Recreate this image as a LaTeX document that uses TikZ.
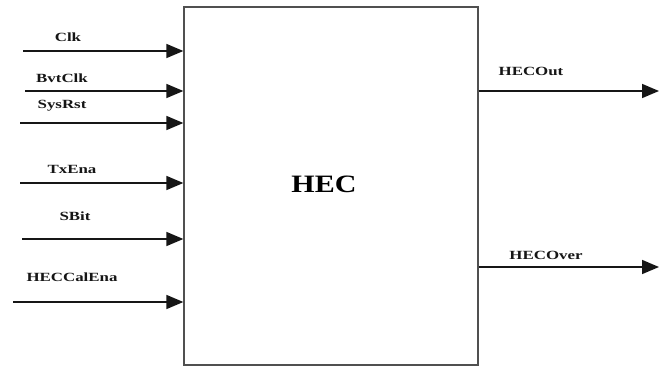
\documentclass[tikz,border=0pt]{standalone}
\usepackage{fontspec}
\setmainfont{Liberation Serif}
\newfontfamily\widefont[FakeStretch=1.35]{Liberation Serif}
\newfontfamily\titlefont[FakeStretch=1.2]{Liberation Serif}
\usetikzlibrary{arrows.meta, positioning}
\definecolor{cline}{HTML}{161616}
\definecolor{cbox}{HTML}{505050}
\tikzset{
  every picture/.style={font=\bfseries, line width=1.4pt},
  block/.style={draw=cbox, line width=1.3pt, minimum width=294pt, minimum height=358pt, inner sep=0pt},
  sig/.style={-{Triangle[length=17pt, width=14pt]}, draw=cline, line width=1.6pt},
  lbl/.style={font=\widefont\bfseries\fontsize{12.5}{14}\selectfont, text=cline, inner sep=0pt},
}

\begin{document}
\begin{tikzpicture}[x=1pt, y=-1pt]
  \useasboundingbox (0,0) rectangle (659,367);
  \node[block] (hec) at (331,186) {};
  \node[font=\titlefont\bfseries\fontsize{25}{28}\selectfont] (hectxt) at (324,184) {HEC};
  % inputs
  \foreach \i/\t/\x/\y/\lx/\ly in {1/Clk/23/51/68/37, 2/BvtClk/25/91/62/78, 3/SysRst/20/123/62/106,
                                   4/TxEna/20/183/72/169, 5/SBit/22/239/75/216, 6/HECCalEna/13/302/72/277} {
    \coordinate (in\i) at (\x,\y);
    \draw[sig] (in\i) -- (hec.west |- in\i);
    \node[lbl] (lin\i) at (\lx,\ly) {\t};
  }
  % outputs
  \foreach \i/\t/\y/\lx/\ly in {1/HECOut/91/531/71, 2/HECOver/267/546/255} {
    \coordinate (out\i) at (659,\y);
    \draw[sig] (hec.east |- out\i) -- (out\i);
    \node[lbl] (lout\i) at (\lx,\ly) {\t};
  }
\end{tikzpicture}
\end{document}
